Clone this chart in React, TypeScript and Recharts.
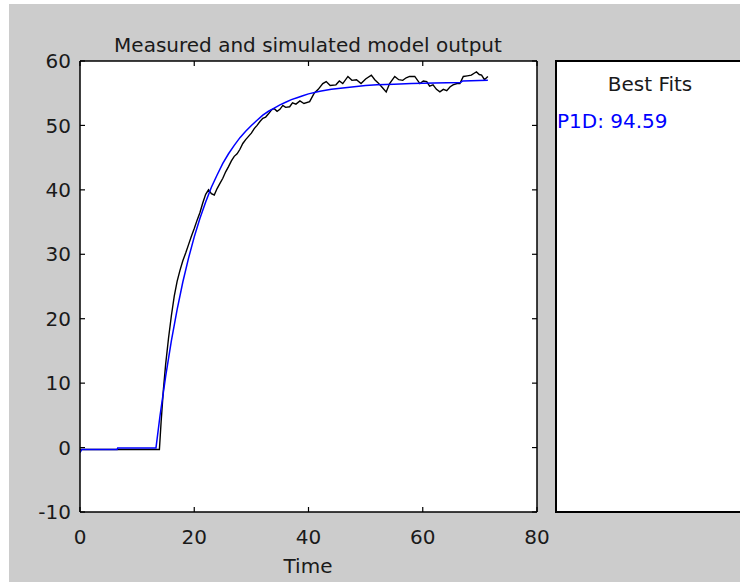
import { LineChart, Line, XAxis, YAxis, CartesianGrid } from "recharts";

const measuredT = [
	0, 13.9, 14.2, 14.6, 15, 15.5, 16, 16.5, 17, 17.5, 18, 18.5, 19, 19.5, 20,
	20.5, 21, 21.5, 22, 22.5, 23, 23.5, 24, 24.5, 25, 25.5, 26, 26.5, 27, 27.5,
	28, 28.5, 29, 29.5, 30, 30.5, 31, 31.5, 32, 32.5, 33, 33.5, 34, 34.5, 35,
	35.5, 36, 36.7, 37.2, 37.8, 38.5, 39.2, 40.2, 41, 41.7, 42.5, 43.1, 43.8,
	44.8, 45.4, 46, 46.9, 47.6, 48.4, 49.2, 50, 51, 51.6, 52.2, 52.8, 53.6, 54.2,
	55.1, 55.8, 56.5, 57.1, 57.7, 58.6, 59.5, 60.1, 60.7, 61.2, 61.8, 62.4, 63,
	63.6, 64.2, 64.8, 65.3, 66, 66.5, 67.1, 67.8, 68.5, 69, 69.4, 69.9, 70.3,
	70.8, 71.4,
];
const measuredY = [
	-0.3, -0.3, 4, 9, 13, 17, 20.5, 23.5, 25.8, 27.5, 29, 30.2, 31.5, 32.8, 34,
	35.3, 36.5, 38, 39.3, 40, 39.4, 39.2, 40.2, 41, 41.8, 42.8, 43.6, 44.5, 45.2,
	45.6, 46.3, 47.2, 47.8, 48.3, 48.8, 49.5, 50, 50.6, 51.1, 51.3, 51.8, 52.4,
	52.6, 52.2, 52.5, 53.1, 52.8, 52.9, 53.5, 53.3, 53.8, 53.4, 53.7, 55, 55.6,
	56.5, 56.8, 56.2, 56.3, 56.9, 56.5, 57.6, 57, 57.1, 56.5, 57.2, 57.8, 57.1,
	56.6, 56, 55.2, 56.5, 57.6, 57.1, 57, 57.4, 57.6, 57.6, 56.5, 56.9, 56.8,
	56.1, 56.3, 55.6, 55.2, 55.6, 55.4, 56, 56.3, 56.5, 56.5, 57.6, 57.7, 57.8,
	58.1, 58.3, 57.9, 57.8, 57.1, 57.6,
];

// simulated P1D model output (blue)
const simT = [
	0, 0.3, 6.5, 6.6, 13.3, 14, 15, 16, 17, 18, 19, 20, 21, 22, 23, 24, 25, 26,
	27, 28, 29, 30, 31, 32, 33, 34, 35, 36, 37, 38, 39, 40, 42, 44, 46, 48, 50,
	52, 55, 58, 62, 66.6, 67, 71.4,
];
const simY = [
	-0.8, -0.3, -0.3, -0.05, -0.05, 4.9, 11.1, 16.6, 21.4, 25.7, 29.4, 32.7,
	35.6, 38.1, 40.4, 42.3, 44.1, 45.6, 46.9, 48.1, 49.1, 50.0, 50.8, 51.6,
	52.2, 52.7, 53.2, 53.6, 54.0, 54.3, 54.6, 54.9, 55.3, 55.6, 55.8, 56.0,
	56.2, 56.3, 56.4, 56.5, 56.6, 56.65, 56.9, 57.0,
];

const xTicks = [0, 20, 40, 60, 80];
const yTicks = [-10, 0, 10, 20, 30, 40, 50, 60];

const measured = measuredT.map((t, i) => ({ t, y: measuredY[i] }));
const simulated = simT.map((t, i) => ({ t, y: simY[i] }));

const font = "'DejaVu Sans', sans-serif";
const tickText = { fill: "#1a1a1a", fontSize: 20, fontFamily: font };
const frame = { stroke: "#000", strokeWidth: 1.5 };
const noLabel = () => <g />;

const label = (top: number, extra: object) => ({
	position: "absolute" as const,
	top,
	fontFamily: font,
	fontSize: 20,
	lineHeight: "20px",
	whiteSpace: "nowrap" as const,
	...extra,
});

export default function App() {
	return (
		<div
			style={{
				position: "absolute",
				left: 0,
				top: 0,
				width: 740,
				height: 582,
				overflow: "hidden",
				background: "#fff",
			}}
		>
			<div
				style={{
					position: "absolute",
					left: 9,
					top: 4,
					width: 731,
					height: 578,
					background: "#cccccc",
				}}
			/>
			<div style={label(35, { left: 108, width: 400, textAlign: "center", color: "#1a1a1a" })}>
				Measured and simulated model output
			</div>
			<div style={label(556, { left: 208, width: 200, textAlign: "center", color: "#1a1a1a" })}>
				Time
			</div>

			<LineChart
				width={740}
				height={582}
				data={measured}
				margin={{ top: 61, right: 203, bottom: 30, left: 20 }}
				style={{ position: "absolute", left: 0, top: 0 }}
			>
				<CartesianGrid fill="#fff" horizontal={false} vertical={false} />
				<XAxis
					dataKey="t"
					type="number"
					domain={[0, 80]}
					ticks={xTicks}
					allowDataOverflow
					height={40}
					tickLine={false}
					tickSize={0}
					tickMargin={18}
					axisLine={frame}
					tick={tickText}
				/>
				<XAxis
					xAxisId="inner"
					dataKey="t"
					type="number"
					domain={[0, 80]}
					ticks={xTicks}
					allowDataOverflow
					mirror
					tick={noLabel}
					axisLine={false}
					tickSize={5}
					tickLine={{ stroke: "#000", strokeWidth: 1.2 }}
				/>
				<XAxis
					xAxisId="top"
					orientation="top"
					dataKey="t"
					type="number"
					domain={[0, 80]}
					ticks={xTicks}
					allowDataOverflow
					mirror
					tick={noLabel}
					axisLine={frame}
					tickSize={5}
					tickLine={{ stroke: "#000", strokeWidth: 1.2 }}
				/>
				<YAxis
					type="number"
					domain={[-10, 60]}
					ticks={yTicks}
					allowDataOverflow
					width={60}
					tickLine={false}
					tickSize={0}
					tickMargin={9}
					axisLine={frame}
					tick={tickText}
				/>
				<YAxis
					yAxisId="inner"
					type="number"
					domain={[-10, 60]}
					ticks={yTicks}
					allowDataOverflow
					mirror
					tick={noLabel}
					axisLine={false}
					tickSize={5}
					tickLine={{ stroke: "#000", strokeWidth: 1.2 }}
				/>
				<YAxis
					yAxisId="right"
					orientation="right"
					type="number"
					domain={[-10, 60]}
					ticks={yTicks}
					allowDataOverflow
					mirror
					tick={noLabel}
					axisLine={frame}
					tickSize={5}
					tickLine={{ stroke: "#000", strokeWidth: 1.2 }}
				/>
				<Line
					data={measured}
					dataKey="y"
					type="linear"
					stroke="#000"
					strokeWidth={1.4}
					dot={false}
					isAnimationActive={false}
				/>
				<Line
					data={simulated}
					dataKey="y"
					type="linear"
					stroke="#0000ff"
					strokeWidth={1.5}
					dot={false}
					isAnimationActive={false}
				/>
			</LineChart>

			<div
				style={{
					position: "absolute",
					left: 555,
					top: 60,
					width: 200,
					height: 453,
					boxSizing: "border-box",
					border: "2px solid #000",
					background: "#fff",
				}}
			/>
			<div style={label(74, { left: 560, width: 180, textAlign: "center", color: "#1a1a1a" })}>
				Best Fits
			</div>
			<div style={label(111, { left: 557, color: "#0000ff" })}>P1D: 94.59</div>
		</div>
	);
}
